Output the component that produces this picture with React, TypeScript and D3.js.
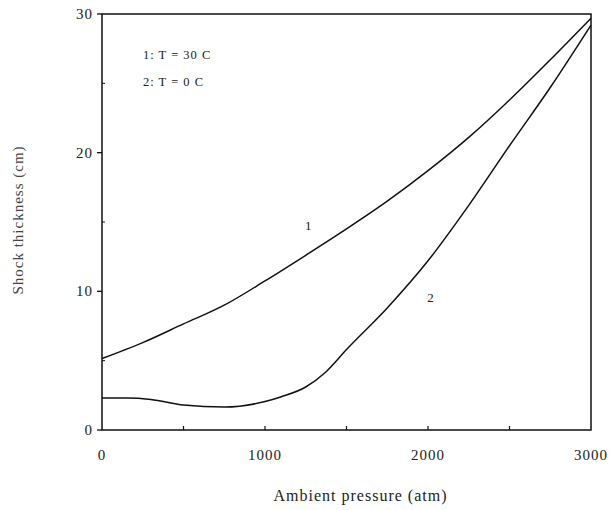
import React, { useEffect, useRef } from "react";
import * as d3 from "d3";

const pressure = [0, 250, 500, 750, 1000, 1250, 1500, 1750, 2000, 2250, 2500, 2750, 3000];
const curve1 = [5.15, 6.3, 7.65, 9.0, 10.75, 12.6, 14.5, 16.5, 18.7, 21.1, 23.8, 26.7, 29.7];
const pressure2 = [0, 150, 300, 500, 750, 1000, 1100, 1250, 1375, 1500, 1750, 2000, 2250, 2500, 2750, 3000];
const curve2 = [2.3, 2.3, 2.2, 1.8, 1.65, 2.05, 2.4, 3.1, 4.2, 5.8, 8.8, 12.2, 16.2, 20.5, 24.7, 29.2];
const xTicks = [0, 1000, 2000, 3000];
const xMinor = [500, 1000, 1500, 2000, 2500];
const yTicks = [0, 10, 20, 30];
const yMinor = [5, 15, 25];
const legend = ["1: T = 30 C", "2: T = 0 C"];

export default function App() {
  const ref = useRef<SVGSVGElement>(null);
  useEffect(() => {
    const svg = d3.select(ref.current);
    svg.selectAll("*").remove();
    const L = 102, R = 591, T = 14, B = 430;
    const x = d3.scaleLinear().domain([0, 3000]).range([L, R]);
    const y = d3.scaleLinear().domain([0, 30]).range([B, T]);
    const font = "'Liberation Serif', 'Times New Roman', serif";
    const col = "#111";

    svg.append("rect").attr("x", L).attr("y", T).attr("width", R - L).attr("height", B - T)
      .attr("fill", "none").attr("stroke", col).attr("stroke-width", 1.5);

    yTicks.forEach(v => {
      svg.append("line").attr("x1", L - 5).attr("x2", L).attr("y1", y(v)).attr("y2", y(v))
        .attr("stroke", col).attr("stroke-width", 1.3);
      svg.append("text").attr("x", L - 9).attr("y", y(v) + 5).attr("text-anchor", "end")
        .attr("font-family", font).attr("font-size", 15).attr("letter-spacing", 1)
        .attr("fill", "#222").text(String(v));
    });
    yMinor.forEach(v => {
      svg.append("line").attr("x1", L).attr("x2", L + 3).attr("y1", y(v)).attr("y2", y(v))
        .attr("stroke", col).attr("stroke-width", 1);
    });
    xMinor.forEach(v => {
      svg.append("line").attr("x1", x(v)).attr("x2", x(v)).attr("y1", B).attr("y2", B - 4)
        .attr("stroke", col).attr("stroke-width", 1.2);
    });
    xTicks.forEach(v => {
      svg.append("text").attr("x", x(v)).attr("y", B + 30).attr("text-anchor", "middle")
        .attr("font-family", font).attr("font-size", 15).attr("letter-spacing", 1)
        .attr("fill", "#222").text(String(v));
    });

    const line = d3.line<[number, number]>().x(d => x(d[0])).y(d => y(d[1])).curve(d3.curveMonotoneX);
    svg.append("path").attr("d", line(pressure.map((p, i) => [p, curve1[i]]))!)
      .attr("fill", "none").attr("stroke", col).attr("stroke-width", 1.5);
    svg.append("path").attr("d", line(pressure2.map((p, i) => [p, curve2[i]]))!)
      .attr("fill", "none").attr("stroke", col).attr("stroke-width", 1.5);

    svg.append("text").attr("x", x(1245)).attr("y", y(14.45)).attr("font-family", font)
      .attr("font-size", 13).attr("fill", "#222").text("1");
    svg.append("text").attr("x", x(1995)).attr("y", y(9.2)).attr("font-family", font)
      .attr("font-size", 13).attr("fill", "#222").text("2");

    legend.forEach((t, i) => {
      svg.append("text").attr("x", 143).attr("y", 59 + i * 27).attr("font-family", font)
        .attr("font-size", 12.5).attr("letter-spacing", 1).attr("fill", "#222").text(t);
    });

    svg.append("text").attr("x", (L + R) / 2 + 14).attr("y", 501).attr("text-anchor", "middle")
      .attr("font-family", font).attr("font-size", 16).attr("letter-spacing", 1)
      .attr("fill", "#222").text("Ambient pressure (atm)");
    svg.append("text").attr("transform", `translate(23,220) rotate(-90)`)
      .attr("text-anchor", "middle").attr("font-family", font).attr("font-size", 15)
      .attr("letter-spacing", 1).attr("fill", "#444").text("Shock thickness (cm)");
  }, []);
  return (
    <div style={{ position: "absolute", left: 0, top: 0 }}>
      <svg ref={ref} width={611} height={510} style={{ display: "block", background: "#fff" }} />
    </div>
  );
}
